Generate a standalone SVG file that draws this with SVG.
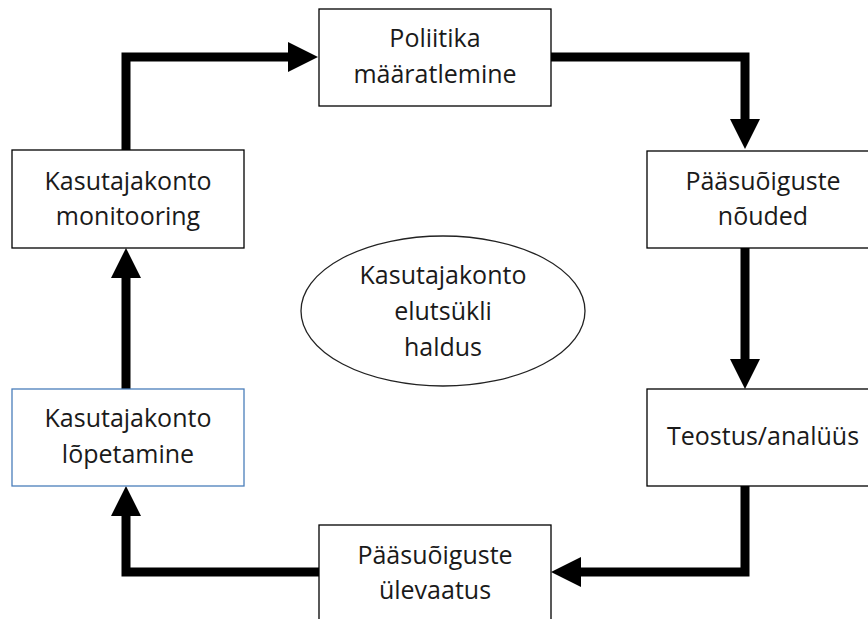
<svg xmlns="http://www.w3.org/2000/svg" width="868" height="619" viewBox="0 0 868 619">
  <style>
    .box { fill: #ffffff; stroke: #000000; stroke-width: 1.3; }
    .box-blue { fill: #ffffff; stroke: #4a7ebb; stroke-width: 1.3; }
    .oval { fill: #ffffff; stroke: #222222; stroke-width: 1.3; }
    .lbl { font-family: "Open Sans", "Liberation Sans", sans-serif; font-size: 25px; fill: #1a1a1a; text-anchor: middle; }
    .conn { fill: none; stroke: #000000; stroke-width: 9; stroke-linejoin: miter; marker-end: url(#head); }
  </style>
  <defs>
    <marker id="head" markerUnits="userSpaceOnUse" markerWidth="30" markerHeight="30" refX="0" refY="15" orient="auto" viewBox="0 0 30 30">
      <path d="M0,0 L30,15 L0,30 Z" fill="#000000"/>
    </marker>
  </defs>

  <g id="connectors">
    <path class="conn" d="M126,150 V57 H288"/>
    <path class="conn" d="M551,57 H745 V119"/>
    <path class="conn" d="M745,248 V359"/>
    <path class="conn" d="M745,486 V572 H581"/>
    <path class="conn" d="M319,572 H126 V516"/>
    <path class="conn" d="M126,389 V278"/>
  </g>

  <g id="policy">
    <rect class="box" x="319" y="9" width="232" height="97"/>
    <text class="lbl" x="435" y="47">Poliitika</text>
    <text class="lbl" x="435" y="83">määratlemine</text>
  </g>

  <g id="requirements">
    <rect class="box" x="647" y="151" width="232" height="97"/>
    <text class="lbl" x="763" y="190">Pääsuõiguste</text>
    <text class="lbl" x="763" y="225">nõuded</text>
  </g>

  <g id="implementation">
    <rect class="box" x="647" y="389" width="232" height="97"/>
    <text class="lbl" x="763" y="445">Teostus/analüüs</text>
  </g>

  <g id="review">
    <rect class="box" x="319" y="525" width="232" height="110"/>
    <text class="lbl" x="435" y="564">Pääsuõiguste</text>
    <text class="lbl" x="435" y="599">ülevaatus</text>
  </g>

  <g id="termination">
    <rect class="box-blue" x="12" y="389" width="232" height="97"/>
    <text class="lbl" x="128" y="427">Kasutajakonto</text>
    <text class="lbl" x="128" y="463">lõpetamine</text>
  </g>

  <g id="monitoring">
    <rect class="box" x="12" y="150" width="232" height="98"/>
    <text class="lbl" x="128" y="190">Kasutajakonto</text>
    <text class="lbl" x="128" y="225">monitooring</text>
  </g>

  <g id="lifecycle">
    <ellipse class="oval" cx="443" cy="311" rx="142" ry="75"/>
    <text class="lbl" x="443" y="284">Kasutajakonto</text>
    <text class="lbl" x="443" y="320">elutsükli</text>
    <text class="lbl" x="443" y="356">haldus</text>
  </g>
</svg>
